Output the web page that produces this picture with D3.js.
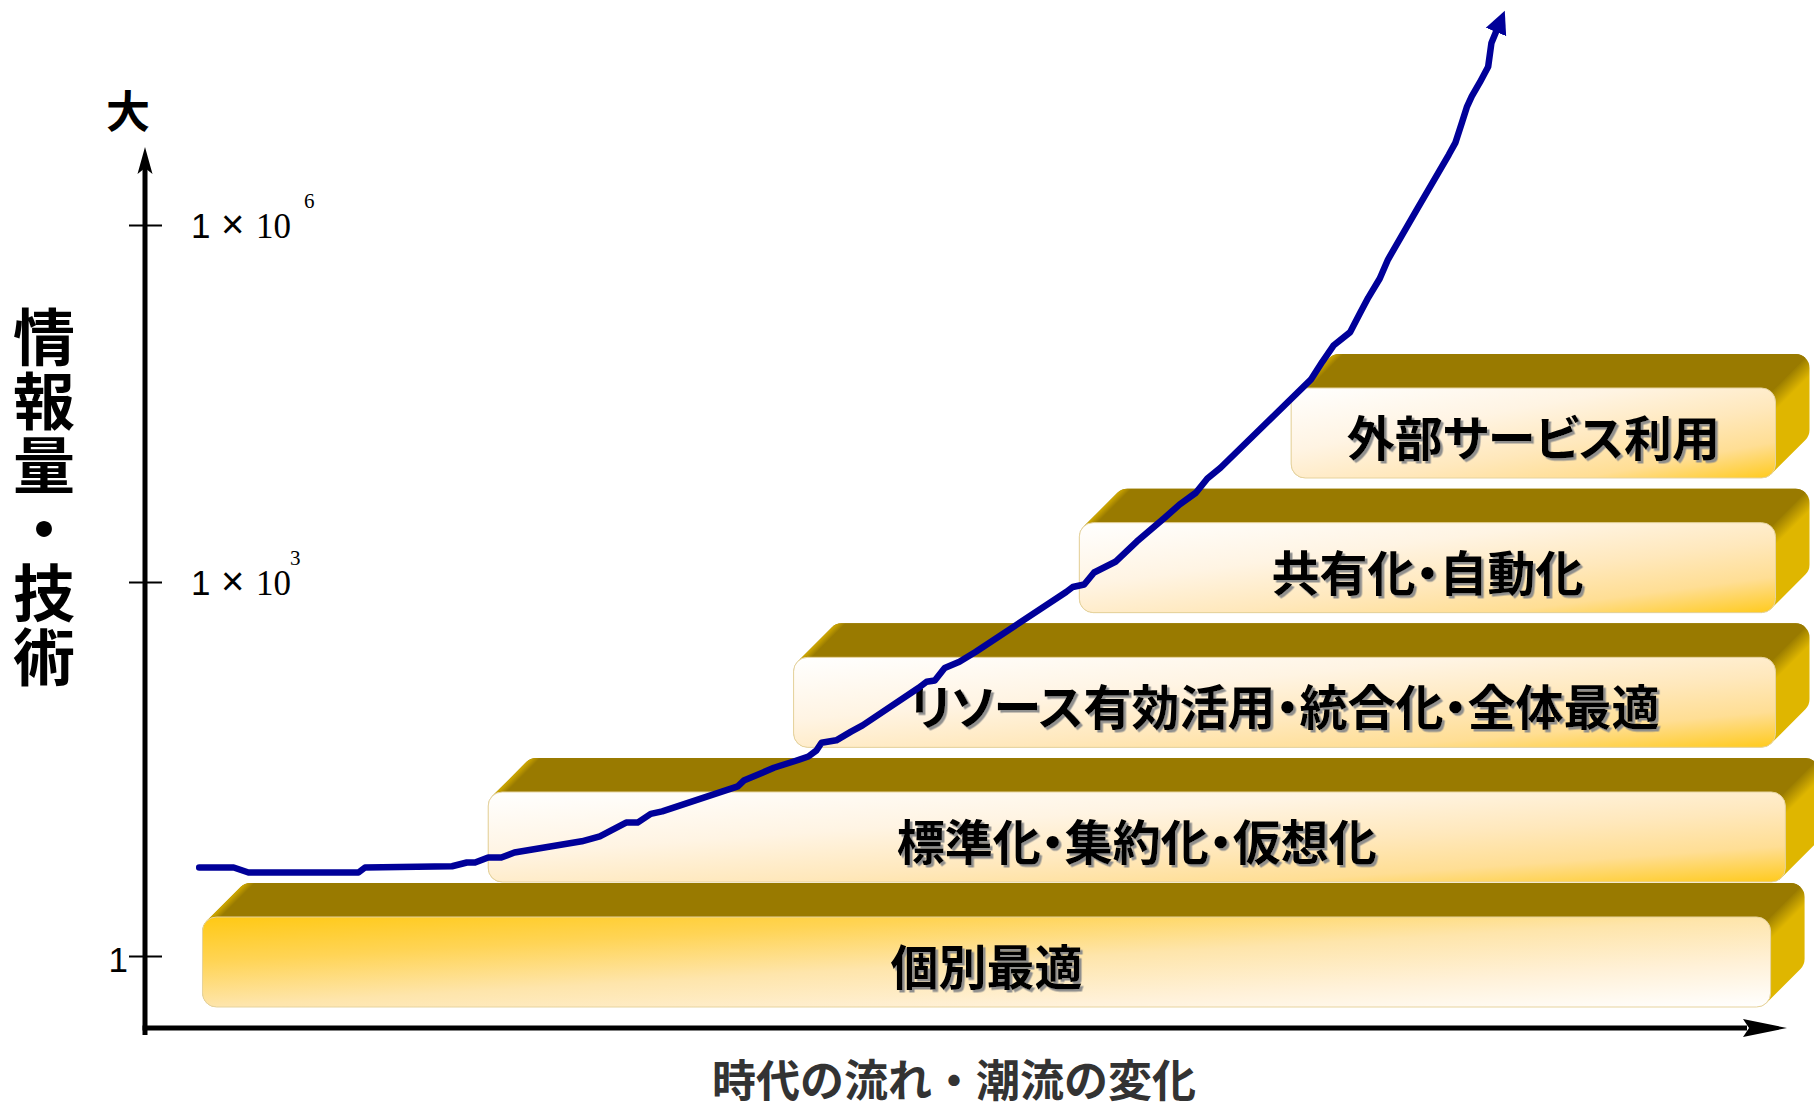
<!DOCTYPE html>
<html>
<head>
<meta charset="utf-8">
<script src="https://cdn.jsdelivr.net/npm/d3@7"></script>
<style>
  html, body { margin: 0; padding: 0; background: #fff; }
  svg { display: block; }
  .jp { font-family: "Noto Sans CJK JP", "Noto Sans", sans-serif; }
  .stageText { font-feature-settings: "palt"; }
</style>
</head>
<body>
<div id="chart"></div>
<script>
// time runs 0..100 along the x axis, information volume is stored as a power of 10
var timeValues = [3.3, 5.4, 6.3, 13.0, 13.4, 18.7, 19.6, 20.1, 20.9, 21.7,
    22.5, 26.6, 27.7, 29.3, 30.0, 30.8, 31.5, 36.1, 36.5, 37.6,
    38.3, 39.5, 40.4, 40.9, 41.2, 42.1, 43.0, 43.7, 47.1, 47.6,
    48.1, 48.7, 49.6, 50.6, 56.1, 56.5, 57.2, 57.8, 59.1, 60.4,
    62.1, 63.0, 64.0, 64.7, 65.5, 71.0, 71.7, 72.4, 73.4, 74.0,
    74.5, 75.2, 75.7, 77.5, 79.4, 79.8, 80.2, 80.5, 80.8, 81.3,
    81.8, 82.0, 82.3];
var volumeExponents = [0.71, 0.71, 0.67, 0.67, 0.71, 0.72, 0.75, 0.75, 0.79, 0.79,
    0.83, 0.92, 0.96, 1.07, 1.07, 1.14, 1.16, 1.36, 1.41, 1.47,
    1.51, 1.56, 1.60, 1.65, 1.71, 1.73, 1.80, 1.85, 2.15, 2.20,
    2.21, 2.31, 2.36, 2.44, 2.92, 2.96, 2.98, 3.08, 3.17, 3.34,
    3.54, 3.65, 3.75, 3.87, 3.96, 4.70, 4.85, 4.99, 5.10, 5.26,
    5.39, 5.55, 5.71, 6.14, 6.59, 6.69, 6.86, 6.99, 7.08, 7.20,
    7.33, 7.53, 7.63];

// stages (bottom to top) and the time span each one covers
var stageLabels = ["個別最適", "標準化・集約化・仮想化", "リソース有効活用・統合化・全体最適", "共有化・自動化", "外部サービス利用"];
var stageStart = [3.5, 20.9, 39.5, 56.9, 69.8];
var stageEnd = [99.0, 99.9, 99.3, 99.3, 99.3];

var tickExponents = [0, 3, 6];
var yTitle = "情報量・技術";
var xTitle = "時代の流れ・潮流の変化";
var yTopLabel = "大";

var svgWidth = 1814;
var svgHeight = 1110;

var svg = d3.select("#chart")
    .append("svg")
    .attr("width", svgWidth)
    .attr("height", svgHeight);

var defs = svg.append("defs");

// scales
var x = d3.scaleLinear().domain([0, 100]).range([145, 1787]);
var y = d3.scaleLinear().domain([0, 3, 6]).range([956, 582, 225]);

// upper stages share a band layout, the first stage sits right under them
var band = d3.scaleBand()
    .domain(d3.range(1, stageLabels.length))
    .range([882, 354])
    .paddingInner(0.0792);
var slabHeight = band.bandwidth();
function slabTop(i) {
    return i === 0 ? band(1) + slabHeight + 1 : band(i);
}

var axisY = 1028;
var depth = 34;
var rad = 14;
var k = 0.293 * rad;

// gradients for the front faces
function addGradient(id, stops) {
    var g = defs.append("linearGradient")
        .attr("id", id)
        .attr("x1", 0).attr("y1", 0)
        .attr("x2", 1).attr("y2", 1);
    stops.forEach(function (s) {
        g.append("stop").attr("offset", s[0]).attr("stop-color", s[1]);
    });
}
addGradient("frontBase", [[0, "#FFC914"], [0.25, "#FFD455"], [0.5, "#FEE5AB"], [0.75, "#FFF1D8"], [1, "#FFFFFF"]]);
addGradient("frontUp", [[0, "#FFFFFF"], [0.35, "#FFF4E3"], [0.6, "#FFE8BC"], [0.8, "#FFDE94"], [1, "#FFCA1C"]]);

var shadow = defs.append("filter")
    .attr("id", "txtShadow")
    .attr("x", "-5%").attr("y", "-30%")
    .attr("width", "110%").attr("height", "160%");
shadow.append("feDropShadow")
    .attr("dx", 2.5).attr("dy", 2.5)
    .attr("stdDeviation", 0.6)
    .attr("flood-color", "#8a8a8a")
    .attr("flood-opacity", 0.95);

function silhouette(L, T, R, B) {
    var d = depth, r = rad;
    return "M" + L + "," + (B - r) +
        "L" + L + "," + (T + r) +
        "A" + r + "," + r + " 0 0 1 " + (L + k) + "," + (T + k) +
        "L" + (L + k + d) + "," + (T + k - d) +
        "A" + r + "," + r + " 0 0 1 " + (L + d + r) + "," + (T - d) +
        "L" + (R + d - r) + "," + (T - d) +
        "A" + r + "," + r + " 0 0 1 " + (R + d) + "," + (T - d + r) +
        "L" + (R + d) + "," + (B - d - r) +
        "A" + r + "," + r + " 0 0 1 " + (R + d - k) + "," + (B - d - k) +
        "L" + (R - k) + "," + (B - k) +
        "A" + r + "," + r + " 0 0 1 " + (R - r) + "," + B +
        "L" + (L + r) + "," + B +
        "A" + r + "," + r + " 0 0 1 " + L + "," + (B - r) + "Z";
}

function topFace(L, T, R) {
    var d = depth, r = rad;
    return "M" + (L + k) + "," + (T + k) +
        "L" + (L + k + d) + "," + (T + k - d) +
        "A" + r + "," + r + " 0 0 1 " + (L + d + r) + "," + (T - d) +
        "L" + (R + d - r) + "," + (T - d) +
        "A" + r + "," + r + " 0 0 1 " + (R + d - k) + "," + (T - d + k) +
        "L" + (R - k) + "," + (T + k) + "Z";
}

// slabs
var slabs = svg.append("g");
stageLabels.forEach(function (label, i) {
    var L = x(stageStart[i]);
    var R = x(stageEnd[i]);
    var T = slabTop(i) + depth;
    var B = slabTop(i) + slabHeight;

    // side shading: darker along the top-right edge
    var sx = R + depth / 2 - k, sy = T - depth / 2 + k;
    var sg = defs.append("linearGradient")
        .attr("id", "side" + i)
        .attr("gradientUnits", "userSpaceOnUse")
        .attr("x1", sx).attr("y1", sy)
        .attr("x2", sx + 11).attr("y2", sy + 11);
    sg.append("stop").attr("offset", 0).attr("stop-color", "#9C7E00");
    sg.append("stop").attr("offset", 1).attr("stop-color", "#DFB600");

    // top shading: light rim along the left slant
    var tx = L + k + depth / 2, ty = T + k - depth / 2;
    var tg = defs.append("linearGradient")
        .attr("id", "top" + i)
        .attr("gradientUnits", "userSpaceOnUse")
        .attr("x1", tx).attr("y1", ty)
        .attr("x2", tx + 5).attr("y2", ty + 5);
    tg.append("stop").attr("offset", 0).attr("stop-color", "#CFA800");
    tg.append("stop").attr("offset", 1).attr("stop-color", "#997A00");

    var g = slabs.append("g").attr("class", "stage");
    g.append("path")
        .attr("d", silhouette(L, T, R, B))
        .attr("fill", "url(#side" + i + ")");
    g.append("path")
        .attr("d", topFace(L, T, R))
        .attr("fill", "url(#top" + i + ")");
    g.append("rect")
        .attr("x", L).attr("y", T)
        .attr("width", R - L).attr("height", B - T)
        .attr("rx", rad).attr("ry", rad)
        .attr("fill", i === 0 ? "url(#frontBase)" : "url(#frontUp)")
        .attr("stroke", "#E6D39E")
        .attr("stroke-width", 1);
    g.append("text")
        .attr("class", "jp stageText")
        .attr("x", (L + R) / 2)
        .attr("y", (T + B) / 2 + 2)
        .attr("text-anchor", "middle")
        .attr("dominant-baseline", "central")
        .attr("font-size", 48)
        .attr("font-weight", "bold")
        .attr("fill", "#000")
        .attr("filter", "url(#txtShadow)")
        .text(label);
});

// y axis ticks
var tickAxis = d3.axisLeft(y)
    .tickValues(tickExponents)
    .tickSize(33)
    .tickFormat("");
var tickGroup = svg.append("g")
    .attr("transform", "translate(162,0)")
    .call(tickAxis);
tickGroup.select(".domain").remove();
tickGroup.selectAll("line").attr("stroke", "#000").attr("stroke-width", 2);

// axis lines with arrow heads
svg.append("line")
    .attr("x1", x(0)).attr("y1", axisY + 7)
    .attr("x2", x(0)).attr("y2", 166)
    .attr("stroke", "#000").attr("stroke-width", 5);
svg.append("path")
    .attr("d", "M" + x(0) + ",147L" + (x(0) - 7.5) + ",174L" + x(0) + ",168L" + (x(0) + 7.5) + ",174Z")
    .attr("fill", "#000");

svg.append("line")
    .attr("x1", x(0) - 2.5).attr("y1", axisY)
    .attr("x2", x(100) - 40).attr("y2", axisY)
    .attr("stroke", "#000").attr("stroke-width", 5);
svg.append("path")
    .attr("d", "M" + x(100) + "," + axisY + "L" + (x(100) - 44) + "," + (axisY - 9) +
        "L" + (x(100) - 38) + "," + axisY + "L" + (x(100) - 44) + "," + (axisY + 9) + "Z")
    .attr("fill", "#000");

// tick labels
tickExponents.forEach(function (e) {
    if (e === 0) {
        svg.append("text")
            .attr("x", 128)
            .attr("y", y(e) + 16)
            .attr("text-anchor", "end")
            .attr("font-family", "Liberation Sans, Arial, sans-serif")
            .attr("font-size", 35)
            .attr("fill", "#000")
            .text("1");
        return;
    }
    var t = svg.append("text")
        .attr("y", y(e) + 13)
        .attr("fill", "#000");
    t.append("tspan")
        .attr("x", 191)
        .attr("font-family", "Liberation Sans, Arial, sans-serif")
        .attr("font-size", 35)
        .text("1");
    t.append("tspan")
        .attr("x", 221)
        .attr("font-family", "Liberation Sans, Arial, sans-serif")
        .attr("font-size", 40)
        .text("×");
    t.append("tspan")
        .attr("x", 256)
        .attr("font-family", "Liberation Serif, Times New Roman, serif")
        .attr("font-size", 35)
        .text("10");
    t.append("tspan")
        .attr("x", e === 6 ? 304 : 290)
        .attr("dy", -30)
        .attr("font-family", "Liberation Serif, Times New Roman, serif")
        .attr("font-size", 21)
        .text(String(e));
});

// axis titles
svg.append("text")
    .attr("class", "jp")
    .attr("x", 128)
    .attr("y", 109)
    .attr("text-anchor", "middle")
    .attr("dominant-baseline", "central")
    .attr("font-size", 44)
    .attr("font-weight", "bold")
    .attr("fill", "#000")
    .text(yTopLabel);

svg.append("text")
    .attr("class", "jp")
    .attr("x", 44)
    .attr("y", 306)
    .style("writing-mode", "vertical-rl")
    .attr("text-anchor", "start")
    .attr("font-size", 62)
    .attr("font-weight", "bold")
    .attr("letter-spacing", 2)
    .attr("fill", "#000")
    .text(yTitle);

svg.append("text")
    .attr("class", "jp")
    .attr("x", 954)
    .attr("y", 1078)
    .attr("text-anchor", "middle")
    .attr("dominant-baseline", "central")
    .attr("font-size", 44)
    .attr("font-weight", "bold")
    .attr("fill", "#333")
    .text(xTitle);

// growth line with arrow head
defs.append("marker")
    .attr("id", "lineArrow")
    .attr("markerUnits", "userSpaceOnUse")
    .attr("viewBox", "0 -12 24 24")
    .attr("refX", 1).attr("refY", 0)
    .attr("markerWidth", 24).attr("markerHeight", 24)
    .attr("orient", "auto")
    .append("path")
    .attr("d", "M0,-11L23,0L0,11Z")
    .attr("fill", "#000099");

var lineData = timeValues.map(function (t, i) {
    return { t: t, v: volumeExponents[i] };
});

var line = d3.line()
    .x(function (d) { return x(d.t); })
    .y(function (d) { return y(d.v); });

svg.append("path")
    .datum(lineData)
    .attr("d", line)
    .attr("fill", "none")
    .attr("stroke", "#000099")
    .attr("stroke-width", 6.5)
    .attr("stroke-linejoin", "round")
    .attr("stroke-linecap", "round")
    .attr("marker-end", "url(#lineArrow)");
</script>
</body>
</html>
